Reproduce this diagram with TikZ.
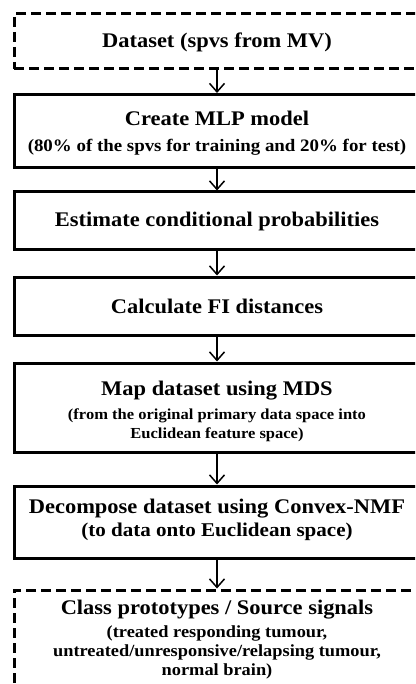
\documentclass[tikz,border=0pt]{standalone}
\usepackage{fontspec}
\setmainfont{Liberation Serif}[FakeStretch=1.08]
\usetikzlibrary{arrows.meta}

\tikzset{
  box/.style={draw=black, line width=3pt, minimum width=406pt, inner sep=0pt, outer sep=0pt},
  solidbox/.style={box},
  dashbox/.style={box, dash pattern=on 10pt off 5pt},
  flow/.style={line width=1.5pt, -{Straight Barb[length=8.5pt, width=15pt, line width=1.5pt]}, shorten >=1.5pt},
  txt/.style={inner sep=0pt, anchor=base},
  head/.style={txt, font=\bfseries\fontsize{20.8}{24}\selectfont},
  mlpsub/.style={txt, font=\bfseries\fontsize{17.5}{20}\selectfont},
  mdssub/.style={txt, font=\bfseries\fontsize{15.3}{18}\selectfont},
  nmfsub/.style={txt, font=\bfseries\fontsize{19.5}{22}\selectfont},
  clssub/.style={txt, font=\bfseries\fontsize{17}{19}\selectfont}
}

\begin{document}
\begin{tikzpicture}[x=1pt, y=-1pt]
\useasboundingbox (0,0) rectangle (415,684);
\clip (0,0) rectangle (415,684);
\fill[white] (0,0) rectangle (415,684);

% process boxes (the frames run past the right and bottom edges)
\node[dashbox,  minimum height=55pt]  (data) at (217,41.5) {};
\node[solidbox, minimum height=73pt]  (mlp)  at (217,131) {};
\node[solidbox, minimum height=58pt]  (est)  at (217,221) {};
\node[solidbox, minimum height=58pt]  (fi)   at (217,306) {};
\node[solidbox, minimum height=89pt]  (mds)  at (217,407.5) {};
\node[solidbox, minimum height=72pt]  (nmf)  at (217,522) {};
\node[dashbox,  minimum height=140pt] (cls)  at (217,660) {};

% labels, placed by their baselines
\node[head]   (tdata) at (217,48)  {Dataset (spvs from MV)};
\node[head]   (tmlp)  at (217,126) {Create MLP model};
\node[mlpsub] (smlp)  at (217,152) {(80\% of the spvs for training and 20\% for test)};
\node[head]   (test)  at (217,227) {Estimate conditional probabilities};
\node[head]   (tfi)   at (217,313) {Calculate FI distances};
\node[head]   (tmds)  at (217,395) {Map dataset using MDS};
\node[mdssub] (smdsa) at (217,419) {(from the original primary data space into};
\node[mdssub] (smdsb) at (217,438) {Euclidean feature space)};
\node[head]   (tnmf)  at (217,513) {Decompose dataset using Convex-NMF};
\node[nmfsub] (snmf)  at (217,536) {(to data onto Euclidean space)};
\node[head]   (tcls)  at (217,614) {Class prototypes / Source signals};
\node[clssub] (sclsa) at (217,637) {(treated responding tumour,};
\node[clssub] (sclsb) at (217,656) {untreated/unresponsive/relapsing tumour,};
\node[clssub] (sclsc) at (217,675) {normal brain)};

% connectors
\draw[flow] (data.south) -- (mlp.north);
\draw[flow] (mlp.south)  -- (est.north);
\draw[flow] (est.south)  -- (fi.north);
\draw[flow] (fi.south)   -- (mds.north);
\draw[flow] (mds.south)  -- (nmf.north);
\draw[flow] (nmf.south)  -- (cls.north);
\end{tikzpicture}
\end{document}
